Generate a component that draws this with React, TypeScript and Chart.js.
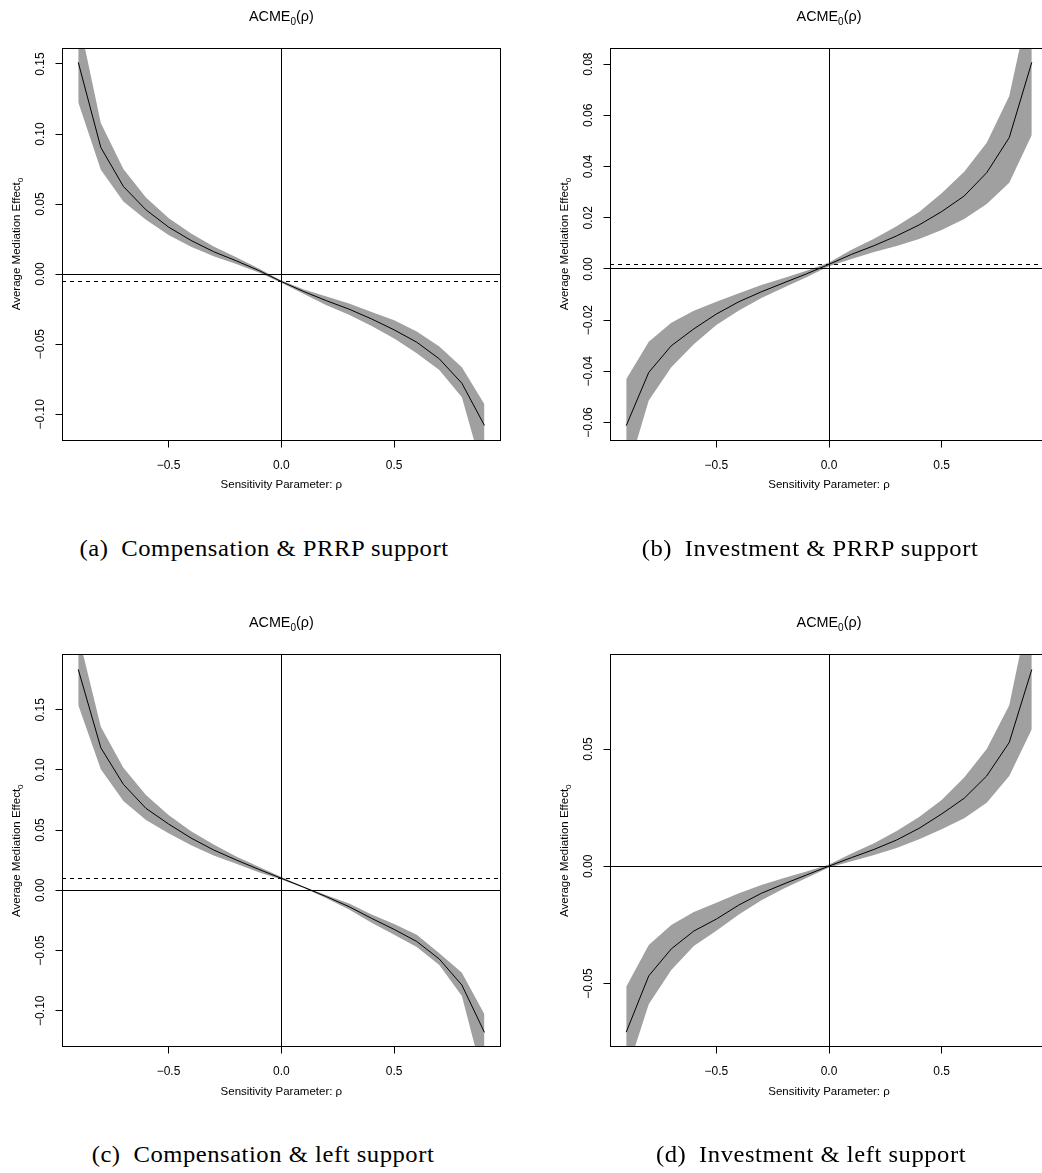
import React, { useEffect, useRef } from "react";
import { Chart, registerables } from "chart.js";

Chart.register(...registerables);

// ---------- data ----------
const rho = [-0.9, -0.8, -0.7, -0.6, -0.5, -0.4, -0.3, -0.2, -0.1, 0, 0.1, 0.2, 0.3, 0.4, 0.5, 0.6, 0.7, 0.8, 0.9];

// (a) Compensation & PRRP support
const acmeA = [0.1512, 0.0904, 0.0626, 0.0459, 0.0336, 0.0240, 0.0160, 0.0095, 0.0026, -0.0053, -0.0125, -0.0190, -0.0250, -0.0320, -0.0398, -0.0486, -0.0605, -0.0779, -0.1080];
const upperA = [0.1840, 0.1078, 0.0750, 0.0547, 0.0400, 0.0290, 0.0198, 0.0120, 0.0040, -0.0045, -0.0110, -0.0160, -0.0210, -0.0270, -0.0330, -0.0410, -0.0517, -0.0664, -0.0929];
const lowerA = [0.1226, 0.0745, 0.0519, 0.0388, 0.0280, 0.0195, 0.0128, 0.0072, 0.0012, -0.0062, -0.0142, -0.0222, -0.0290, -0.0370, -0.0460, -0.0565, -0.0684, -0.0879, -0.1450];

// (b) Investment & PRRP support
const acmeB = [-0.0612, -0.0404, -0.0300, -0.0234, -0.0176, -0.0128, -0.0089, -0.0054, -0.0019, 0.0018, 0.0057, 0.0091, 0.0129, 0.0172, 0.0224, 0.0285, 0.0376, 0.0513, 0.0807];
const upperB = [-0.0431, -0.0284, -0.0210, -0.0163, -0.0128, -0.0095, -0.0063, -0.0035, -0.0007, 0.0025, 0.0075, 0.0118, 0.0167, 0.0222, 0.0296, 0.0380, 0.0493, 0.0676, 0.1080];
const lowerB = [-0.0810, -0.0514, -0.0384, -0.0294, -0.0219, -0.0162, -0.0113, -0.0072, -0.0032, 0.0011, 0.0039, 0.0066, 0.0090, 0.0117, 0.0152, 0.0195, 0.0254, 0.0337, 0.0523];

// (c) Compensation & left support
const acmeC = [0.1835, 0.1184, 0.0880, 0.0681, 0.0551, 0.0434, 0.0335, 0.0252, 0.0174, 0.0100, 0.0025, -0.0053, -0.0136, -0.0233, -0.0325, -0.0425, -0.0571, -0.0787, -0.1180];
const upperC = [0.2126, 0.1359, 0.1018, 0.0792, 0.0625, 0.0490, 0.0380, 0.0280, 0.0195, 0.0110, 0.0030, -0.0040, -0.0110, -0.0200, -0.0280, -0.0370, -0.0523, -0.0684, -0.1030];
const lowerC = [0.1539, 0.1005, 0.0742, 0.0584, 0.0473, 0.0375, 0.0290, 0.0220, 0.0150, 0.0090, 0.0020, -0.0065, -0.0160, -0.0270, -0.0370, -0.0470, -0.0620, -0.0878, -0.1600];

// (d) Investment & left support
const acmeD = [-0.0707, -0.0467, -0.0352, -0.0276, -0.0225, -0.0165, -0.0115, -0.0075, -0.0037, 0.0001, 0.0037, 0.0072, 0.0112, 0.0162, 0.0223, 0.0290, 0.0385, 0.0528, 0.0839];
const upperD = [-0.0513, -0.0335, -0.0250, -0.0195, -0.0155, -0.0115, -0.0080, -0.0050, -0.0022, 0.0008, 0.0055, 0.0098, 0.0150, 0.0210, 0.0283, 0.0379, 0.0500, 0.0687, 0.1148];
const lowerD = [-0.0885, -0.0588, -0.0442, -0.0340, -0.0275, -0.0205, -0.0145, -0.0095, -0.0050, -0.0005, 0.0022, 0.0048, 0.0078, 0.0115, 0.0158, 0.0205, 0.0271, 0.0385, 0.0584];

// axes
const xRange = [-0.972, 0.972];
const xTickValues = [-0.5, 0, 0.5];
const xTickLabels = ["\u22120.5", "0.0", "0.5"];

const yRangeA = [-0.1184, 0.1614];
const yTicksA = [-0.1, -0.05, 0, 0.05, 0.1, 0.15];
const yTickLabelsA = ["\u22120.10", "\u22120.05", "0.00", "0.05", "0.10", "0.15"];

const yRangeB = [-0.0668, 0.0863];
const yTicksB = [-0.06, -0.04, -0.02, 0, 0.02, 0.04, 0.06, 0.08];
const yTickLabelsB = ["\u22120.06", "\u22120.04", "\u22120.02", "0.00", "0.02", "0.04", "0.06", "0.08"];

const yRangeC = [-0.1299, 0.1957];
const yTicksC = [-0.1, -0.05, 0, 0.05, 0.1, 0.15];
const yTickLabelsC = ["\u22120.10", "\u22120.05", "0.00", "0.05", "0.10", "0.15"];

const yRangeD = [-0.0769, 0.0902];
const yTicksD = [-0.05, 0, 0.05];
const yTickLabelsD = ["\u22120.05", "0.00", "0.05"];

// texts
const titleMain = "ACME";
const titleSub = "0";
const titleTail = "(\u03c1)";
const xAxisLabel = "Sensitivity Parameter: \u03c1";
const yAxisLabelMain = "Average Mediation Effect";
const yAxisLabelSub = "0";
const captionTags = ["(a)", "(b)", "(c)", "(d)"];
const captionTexts = [
  "Compensation & PRRP support",
  "Investment & PRRP support",
  "Compensation & left support",
  "Investment & left support",
];

// ---------- styling / layout ----------
const BAND = "#a0a0a0";
const SANS = '"Liberation Sans", Arial, Helvetica, sans-serif';
const CANVAS_W = 540;
const CANVAS_H = 520;

type Part = { text: string; size: number; dy: number };

function drawParts(ctx: CanvasRenderingContext2D, parts: Part[], cx: number, baseline: number) {
  let total = 0;
  const widths = parts.map((p) => {
    ctx.font = `${p.size}px ${SANS}`;
    const w = ctx.measureText(p.text).width;
    total += w;
    return w;
  });
  let x = cx - total / 2;
  ctx.textAlign = "left";
  ctx.textBaseline = "alphabetic";
  parts.forEach((p, i) => {
    ctx.font = `${p.size}px ${SANS}`;
    ctx.fillText(p.text, x, baseline + p.dy);
    x += widths[i];
  });
}

const rPlot = {
  id: "rplot",
  afterDraw(chart: any, _args: any, o: any) {
    const { ctx, chartArea: ca } = chart;
    const xs = chart.scales.x;
    const ys = chart.scales.y;
    const px = (v: number) => Math.floor(v) + 0.5;
    const seg = (x1: number, y1: number, x2: number, y2: number) => {
      ctx.beginPath();
      ctx.moveTo(x1, y1);
      ctx.lineTo(x2, y2);
      ctx.stroke();
    };
    ctx.save();
    ctx.strokeStyle = "#000";
    ctx.fillStyle = "#000";
    ctx.lineWidth = 1;

    // reference lines (abline)
    ctx.save();
    ctx.beginPath();
    ctx.rect(ca.left, ca.top, ca.right - ca.left, ca.bottom - ca.top);
    ctx.clip();
    const hy = px(ys.getPixelForValue(0));
    seg(ca.left, hy, ca.right, hy);
    const vx = px(xs.getPixelForValue(0));
    seg(vx, ca.top, vx, ca.bottom);
    ctx.setLineDash([4, 4]);
    const dy = px(ys.getPixelForValue(o.acme));
    seg(ca.left, dy, ca.right, dy);
    ctx.setLineDash([]);
    ctx.restore();

    // box
    const L = px(ca.left), R = px(ca.right), T = px(ca.top), B = px(ca.bottom);
    ctx.strokeRect(L, T, R - L, B - T);

    // x axis
    o.xTicks.forEach((v: number, i: number) => {
      const x = xs.getPixelForValue(v);
      seg(px(x), B, px(x), B + 7);
      ctx.font = `12px ${SANS}`;
      ctx.textAlign = "center";
      ctx.textBaseline = "alphabetic";
      ctx.fillText(o.xTickLabels[i], x, ca.bottom + 28.7);
    });

    // y axis
    o.yTicks.forEach((v: number, i: number) => {
      const y = ys.getPixelForValue(v);
      seg(L - 7, px(y), L, px(y));
      ctx.save();
      ctx.translate(ca.left - 17.7, y);
      ctx.rotate(-Math.PI / 2);
      ctx.font = `12px ${SANS}`;
      ctx.textAlign = "center";
      ctx.textBaseline = "alphabetic";
      ctx.fillText(o.yTickLabels[i], 0, 0);
      ctx.restore();
    });

    const cx = (ca.left + ca.right) / 2;
    const cy = (ca.top + ca.bottom) / 2;

    // title
    drawParts(ctx, [
      { text: titleMain, size: 14.4, dy: 0 },
      { text: titleSub, size: 10, dy: 4 },
      { text: titleTail, size: 14.4, dy: 0 },
    ], cx, ca.top - 27.5);

    // x label
    drawParts(ctx, [{ text: xAxisLabel, size: 11.5, dy: 0 }], cx, ca.bottom + 47.8);

    // y label
    ctx.save();
    ctx.translate(ca.left - 42.5, cy);
    ctx.rotate(-Math.PI / 2);
    drawParts(ctx, [
      { text: yAxisLabelMain, size: 11.5, dy: 0 },
      { text: yAxisLabelSub, size: 8, dy: 3 },
    ], 0, 0);
    ctx.restore();

    ctx.restore();
  },
};

type PanelSpec = {
  acme: number[];
  upper: number[];
  lower: number[];
  yRange: number[];
  yTicks: number[];
  yTickLabels: string[];
  left: number; // canvas position
  top: number;
  area: { l: number; t: number; r: number; b: number }; // chart area in page px
};

const panels: PanelSpec[] = [
  { acme: acmeA, upper: upperA, lower: lowerA, yRange: yRangeA, yTicks: yTicksA, yTickLabels: yTickLabelsA,
    left: 0, top: 0, area: { l: 62, t: 48, r: 500.7, b: 440 } },
  { acme: acmeB, upper: upperB, lower: lowerB, yRange: yRangeB, yTicks: yTicksB, yTickLabels: yTickLabelsB,
    left: 520, top: 0, area: { l: 610, t: 48, r: 1048, b: 440 } },
  { acme: acmeC, upper: upperC, lower: lowerC, yRange: yRangeC, yTicks: yTicksC, yTickLabels: yTickLabelsC,
    left: 0, top: 607, area: { l: 62, t: 654.7, r: 500.7, b: 1046.7 } },
  { acme: acmeD, upper: upperD, lower: lowerD, yRange: yRangeD, yTicks: yTicksD, yTickLabels: yTickLabelsD,
    left: 520, top: 607, area: { l: 610, t: 654.7, r: 1048, b: 1046.7 } },
];

const captionPos = [
  { cx: 263.5, base: 556 },
  { cx: 810, base: 556 },
  { cx: 263, base: 1162.6 },
  { cx: 810.5, base: 1162.6 },
];

function Panel({ spec }: { spec: PanelSpec }) {
  const ref = useRef<HTMLCanvasElement>(null);
  useEffect(() => {
    const canvas = ref.current;
    if (!canvas) return;
    const zeroIdx = rho.indexOf(0);
    const pts = (arr: number[]) => rho.map((x, i) => ({ x, y: arr[i] }));
    const chart = new Chart(canvas, {
      type: "line",
      data: {
        datasets: [
          { data: pts(spec.acme), borderColor: "#000", borderWidth: 1, pointRadius: 0, fill: false, tension: 0, clip: 0 } as any,
          { data: pts(spec.upper), borderColor: "rgba(0,0,0,0)", backgroundColor: BAND, borderWidth: 1, pointRadius: 0, fill: "+1", tension: 0, clip: 0 } as any,
          { data: pts(spec.lower), borderColor: "rgba(0,0,0,0)", borderWidth: 1, pointRadius: 0, fill: false, tension: 0, clip: 0 } as any,
        ],
      },
      options: {
        responsive: false,
        animation: false,
        devicePixelRatio: 1,
        events: [],
        layout: {
          padding: {
            left: spec.area.l - spec.left,
            top: spec.area.t - spec.top,
            right: CANVAS_W - (spec.area.r - spec.left),
            bottom: CANVAS_H - (spec.area.b - spec.top),
          },
        },
        scales: {
          x: { type: "linear", min: xRange[0], max: xRange[1], display: false },
          y: { type: "linear", min: spec.yRange[0], max: spec.yRange[1], display: false },
        },
        plugins: {
          legend: { display: false },
          tooltip: { enabled: false },
          title: { display: false },
          filler: { drawTime: "beforeDatasetsDraw" },
          rplot: {
            acme: spec.acme[zeroIdx],
            xTicks: xTickValues,
            xTickLabels,
            yTicks: spec.yTicks,
            yTickLabels: spec.yTickLabels,
          },
        } as any,
      },
      plugins: [rPlot as any],
    });
    return () => chart.destroy();
  }, [spec]);
  return (
    <canvas
      ref={ref}
      width={CANVAS_W}
      height={CANVAS_H}
      style={{ position: "absolute", left: spec.left, top: spec.top, width: CANVAS_W, height: CANVAS_H, display: "block" }}
    />
  );
}

const CAP_FS = 23;

export default function App() {
  return (
    <div style={{ position: "absolute", left: 0, top: 0, width: 1042, height: 1173, overflow: "hidden", background: "#fff" }}>
      {panels.map((p, i) => (
        <Panel key={i} spec={p} />
      ))}
      {captionPos.map((c, i) => (
        <div
          key={"cap" + i}
          style={{
            position: "absolute",
            left: c.cx - 260,
            width: 520,
            top: c.base - CAP_FS * 0.8375,
            height: CAP_FS,
            lineHeight: `${CAP_FS}px`,
            fontSize: CAP_FS,
            fontFamily: '"Liberation Serif", "Times New Roman", serif',
            textAlign: "center",
            color: "#000",
            whiteSpace: "nowrap",
            letterSpacing: "0.5px",
            transform: "scaleX(1.07)",
            transformOrigin: "50% 50%",
          }}
        >
          {captionTags[i]}
          {"\u2002"}
          {captionTexts[i]}
        </div>
      ))}
    </div>
  );
}
